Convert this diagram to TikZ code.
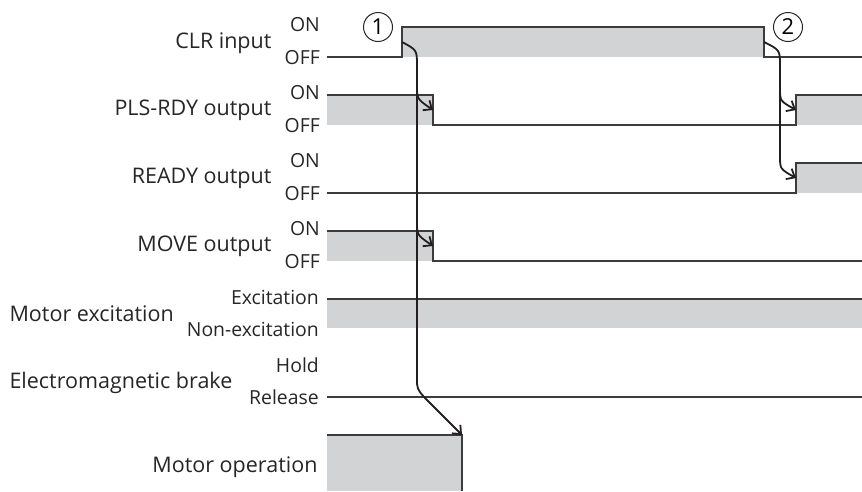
\documentclass[tikz,border=0pt]{standalone}
\usepackage{fontspec}
\setmainfont{Open Sans}
\usepackage{tikz}
\usetikzlibrary{arrows.meta}
\usepackage{xcolor}
\definecolor{sigline}{HTML}{3C3C3C}
\definecolor{sigfill}{HTML}{D1D3D4}
\definecolor{cause}{HTML}{231F20}

\begin{document}
\begin{tikzpicture}[x=1pt,y=-1pt,>={Straight Barb[length=7pt,width=12pt]},
  sig/.style={sigline,line width=1.2pt},
  band/.style={fill=sigfill},
  arrowline/.style={->,cause,line width=1.8pt},
  signame/.style={anchor=east,font=\fontsize{21.5}{21.5}\selectfont,text=black!85},
  level/.style={anchor=east,font=\fontsize{19.4}{19.4}\selectfont,text=black!85,inner sep=0pt},
  stepno/.style={circle,draw=black!85,line width=1pt,minimum size=29pt,inner sep=0pt,font=\fontsize{22}{22}\selectfont}]
  \useasboundingbox (0,0) rectangle (862,491);

  % signal names
  \node[signame] (clr) at (275,43) {CLR input};
  \node[signame] (pls) at (275,110) {PLS-RDY output};
  \node[signame] (ready) at (275,178) {READY output};
  \node[signame] (move) at (275,246) {MOVE output};
  \node[signame,anchor=west] (exc) at (6,314) {Motor excitation};
  \node[signame,anchor=west] (brake) at (6,383) {Electromagnetic brake};
  \node[signame] (op) at (321,467) {Motor operation};

  % levels
  \node[level] (clr-on) at (320,25) {ON};
  \node[level] (clr-off) at (320,58) {OFF};
  \node[level] (pls-on) at (320,93) {ON};
  \node[level] (pls-off) at (320,126) {OFF};
  \node[level] (ready-on) at (320,161) {ON};
  \node[level] (ready-off) at (320,194) {OFF};
  \node[level] (move-on) at (320,229) {ON};
  \node[level] (move-off) at (320,262) {OFF};
  \node[level] (exc-on) at (319,297) {Excitation};
  \node[level] (exc-off) at (319,329) {Non-excitation};
  \node[level] (brake-on) at (319,365) {Hold};
  \node[level] (brake-off) at (319,397) {Release};

  % CLR input
  \fill[band] (402,27) rectangle (764,57);
  \draw[sig] (327,57) -- (402,57) -- (402,27) -- (764,27) -- (764,57) -- (862,57);
  % PLS-RDY output
  \fill[band] (327,95) rectangle (433,125);
  \fill[band] (796,95) rectangle (862,125);
  \draw[sig] (327,95) -- (433,95) -- (433,125) -- (796,125) -- (796,95) -- (862,95);
  % READY output
  \fill[band] (796,163) rectangle (862,193);
  \draw[sig] (327,193) -- (796,193) -- (796,163) -- (862,163);
  % MOVE output
  \fill[band] (327,231) rectangle (433,261);
  \draw[sig] (327,231) -- (433,231) -- (433,261) -- (862,261);
  % motor excitation
  \fill[band] (327,299) rectangle (862,328);
  \draw[sig] (327,299) -- (862,299);
  % brake
  \draw[sig] (327,397) -- (862,397);
  % motor operation
  \fill[band] (327,435) rectangle (462,491);
  \draw[sig] (327,435) -- (462,435) -- (462,491);

  \node[stepno] (one) at (378,27) {1};
  \node[stepno] (two) at (788,27) {2};

  % edges the arrows run between
  \coordinate (clr-rise) at (402,42);
  \coordinate (clr-fall) at (764,42);
  \coordinate (pls-fall) at (433,110);
  \coordinate (move-fall) at (433,246);
  \coordinate (op-stop) at (462,435);
  \coordinate (pls-rise) at (796,110);
  \coordinate (ready-rise) at (796,178);

  \draw[arrowline] (clr-rise) .. controls (417,50) .. (417,66) -- (417,378)
    .. controls (417,389) .. (425,398) -- (op-stop);
  \draw[arrowline] (417,86) .. controls (417,99) .. (pls-fall);
  \draw[arrowline] (417,222) .. controls (417,235) .. (move-fall);
  \draw[arrowline] (clr-fall) .. controls (780,50) .. (780,66) -- (780,156)
    .. controls (780,169) .. (ready-rise);
  \draw[arrowline] (780,88) .. controls (780,101) .. (pls-rise);
\end{tikzpicture}
\end{document}
